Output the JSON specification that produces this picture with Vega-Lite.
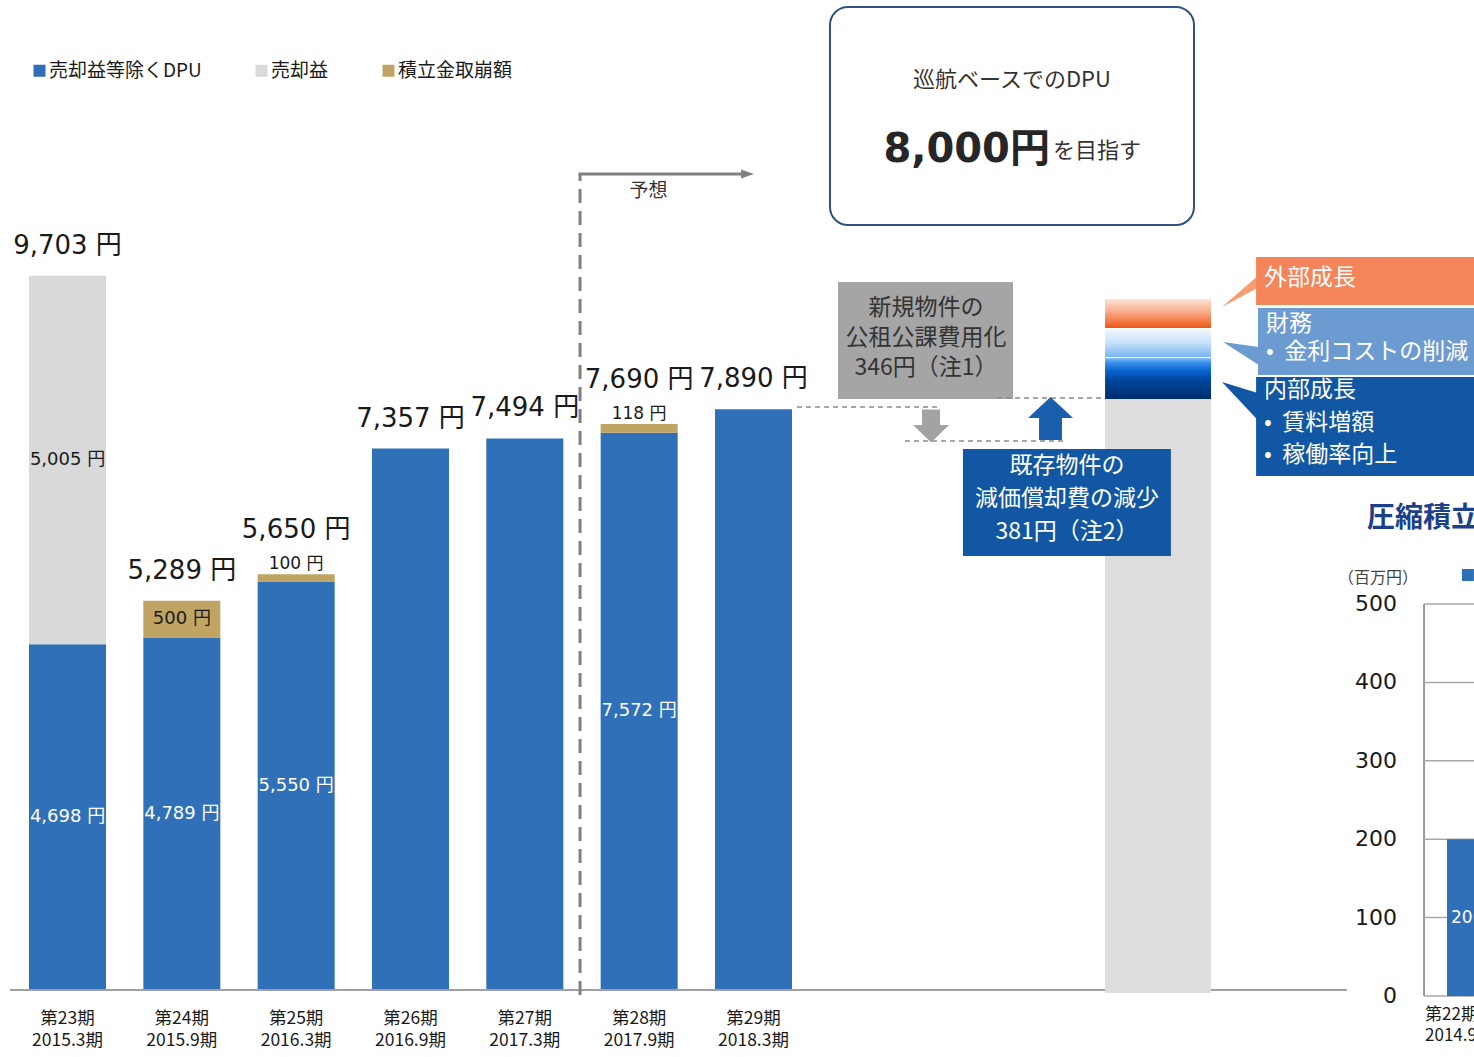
{
  "$schema": "https://vega.github.io/schema/vega-lite/v6.json",
  "width": 1474,
  "height": 1057,
  "padding": 0,
  "autosize": {"type": "none"},
  "background": "white",
  "config": {"view": {"stroke": null}, "axis": {"disable": true}, "font": "Noto Sans CJK JP", "text": {"font": "Noto Sans CJK JP"}},
  "datasets": {
    "segments": [
      {"pos": 1, "series": "売却益等除くDPU", "ord": 1, "value": 4698, "label": "4,698 円"},
      {"pos": 1, "series": "売却益", "ord": 2, "value": 5005, "label": "5,005 円"},
      {"pos": 2, "series": "売却益等除くDPU", "ord": 1, "value": 4789, "label": "4,789 円"},
      {"pos": 2, "series": "積立金取崩額", "ord": 2, "value": 500, "label": "500 円"},
      {"pos": 3, "series": "売却益等除くDPU", "ord": 1, "value": 5550, "label": "5,550 円"},
      {"pos": 3, "series": "積立金取崩額", "ord": 2, "value": 100, "label": "100 円"},
      {"pos": 4, "series": "売却益等除くDPU", "ord": 1, "value": 7357},
      {"pos": 5, "series": "売却益等除くDPU", "ord": 1, "value": 7494},
      {"pos": 6, "series": "売却益等除くDPU", "ord": 1, "value": 7572, "label": "7,572 円"},
      {"pos": 6, "series": "積立金取崩額", "ord": 2, "value": 118, "label": "118 円"},
      {"pos": 7, "series": "売却益等除くDPU", "ord": 1, "value": 7890}
    ],
    "periods": [
      {"pos": 1, "period": "第23期\n2015.3期", "total": 9703, "totalLabel": "9,703 円"},
      {"pos": 2, "period": "第24期\n2015.9期", "total": 5289, "totalLabel": "5,289 円"},
      {"pos": 3, "period": "第25期\n2016.3期", "total": 5650, "totalLabel": "5,650 円"},
      {"pos": 4, "period": "第26期\n2016.9期", "total": 7357, "totalLabel": "7,357 円"},
      {"pos": 5, "period": "第27期\n2017.3期", "total": 7494, "totalLabel": "7,494 円"},
      {"pos": 6, "period": "第28期\n2017.9期", "total": 7690, "totalLabel": "7,690 円"},
      {"pos": 7, "period": "第29期\n2018.3期", "total": 7890, "totalLabel": "7,890 円"}
    ],
    "rticks": [{"v": 0}, {"v": 100}, {"v": 200}, {"v": 300}, {"v": 400}, {"v": 500}],
    "rbar": [{"period": "第22期\n2014.9期", "value": 200, "label": "200"}],
    "one": [{}]
  },
  "layer": [
    {
      "layer": [
        {
          "data": {"name": "segments"},
          "transform": [{"stack": "value", "groupby": ["pos"], "sort": [{"field": "ord"}], "as": ["v0", "v1"]}],
          "mark": {"type": "bar", "size": 77},
          "encoding": {
            "x": {"field": "pos", "type": "quantitative", "scale": {"domain": [0.4096, 13.302], "nice": false, "zero": false, "padding": 0}},
            "y": {"field": "v0", "type": "quantitative", "scale": {"domain": [-910, 13451], "nice": false, "zero": false}},
            "y2": {"field": "v1"},
            "color": {
              "field": "series", "type": "nominal",
              "scale": {"domain": ["売却益等除くDPU", "売却益", "積立金取崩額"], "range": ["#3070b8", "#d9d9d9", "#c0a464"]},
              "legend": {"orient": "none", "legendX": 30, "legendY": 61, "direction": "horizontal", "title": null, "symbolType": "square", "symbolSize": 144, "symbolStrokeWidth": 0, "symbolOpacity": 1, "labelFont": "Noto Sans CJK JP", "labelFontSize": 19, "labelColor": "#1a1a1a", "columnPadding": 50, "labelOffset": 0, "padding": 0}
            }
          }
        },
        {
          "data": {"name": "segments"},
          "transform": [
            {"stack": "value", "groupby": ["pos"], "sort": [{"field": "ord"}], "as": ["v0", "v1"]},
            {"filter": "isValid(datum.label) && datum.value >= 300"},
            {"fold": ["v0", "v1"], "as": ["edge", "ev"]},
            {"aggregate": [{"op": "mean", "field": "ev", "as": "mid"}], "groupby": ["pos", "series", "label"]}
          ],
          "mark": {"type": "text", "font": "DejaVu Sans, Noto Sans CJK JP", "fontSize": 18, "baseline": "middle", "align": "center"},
          "encoding": {
            "x": {"field": "pos", "type": "quantitative", "scale": {"domain": [0.4096, 13.302], "nice": false, "zero": false, "padding": 0}},
            "y": {"field": "mid", "type": "quantitative", "scale": {"domain": [-910, 13451], "nice": false, "zero": false}},
            "text": {"field": "label"},
            "color": {"condition": {"test": "datum.series === '売却益等除くDPU'", "value": "#ffffff"}, "value": "#1a1a1a"}
          }
        },
        {
          "data": {"name": "segments"},
          "transform": [
            {"stack": "value", "groupby": ["pos"], "sort": [{"field": "ord"}], "as": ["v0", "v1"]},
            {"filter": "isValid(datum.label) && datum.value < 300"}
          ],
          "mark": {"type": "text", "font": "DejaVu Sans, Noto Sans CJK JP", "fontSize": 17, "baseline": "bottom", "align": "center", "dy": -1, "color": "#1a1a1a"},
          "encoding": {
            "x": {"field": "pos", "type": "quantitative", "scale": {"domain": [0.4096, 13.302], "nice": false, "zero": false, "padding": 0}},
            "y": {"field": "v1", "type": "quantitative", "scale": {"domain": [-910, 13451], "nice": false, "zero": false}},
            "text": {"field": "label"}
          }
        },
        {
          "data": {"name": "periods"},
          "transform": [{"filter": "datum.pos !== 3 && datum.pos !== 6"}],
          "mark": {"type": "text", "font": "DejaVu Sans, Noto Sans CJK JP", "fontSize": 26, "baseline": "middle", "align": "center", "dy": -30, "color": "#1a1a1a"},
          "encoding": {
            "x": {"field": "pos", "type": "quantitative", "scale": {"domain": [0.4096, 13.302], "nice": false, "zero": false, "padding": 0}},
            "y": {"field": "total", "type": "quantitative", "scale": {"domain": [-910, 13451], "nice": false, "zero": false}},
            "text": {"field": "totalLabel"}
          }
        },
        {
          "data": {"name": "periods"},
          "transform": [{"filter": "datum.pos === 3 || datum.pos === 6"}],
          "mark": {"type": "text", "font": "DejaVu Sans, Noto Sans CJK JP", "fontSize": 26, "baseline": "middle", "align": "center", "dy": -44, "color": "#1a1a1a"},
          "encoding": {
            "x": {"field": "pos", "type": "quantitative", "scale": {"domain": [0.4096, 13.302], "nice": false, "zero": false, "padding": 0}},
            "y": {"field": "total", "type": "quantitative", "scale": {"domain": [-910, 13451], "nice": false, "zero": false}},
            "text": {"field": "totalLabel"}
          }
        },
        {
          "data": {"name": "periods"},
          "mark": {"type": "text", "fontSize": 17.5, "lineHeight": 21.5, "lineBreak": "\n", "baseline": "middle", "align": "center", "color": "#1a1a1a"},
          "encoding": {
            "x": {"field": "pos", "type": "quantitative", "scale": {"domain": [0.4096, 13.302], "nice": false, "zero": false, "padding": 0}},
            "y": {"datum": -394, "type": "quantitative", "scale": {"domain": [-910, 13451], "nice": false, "zero": false}},
            "text": {"field": "period"}
          }
        },
        {
          "data": {"name": "one"},
          "mark": {"type": "rule", "color": "#a0a0a0", "strokeWidth": 2},
          "encoding": {
            "x": {"datum": 0.497, "type": "quantitative", "scale": {"domain": [0.4096, 13.302], "nice": false, "zero": false, "padding": 0}},
            "x2": {"datum": 12.19},
            "y": {"datum": 0, "type": "quantitative", "scale": {"domain": [-910, 13451], "nice": false, "zero": false}}
          }
        },
        {
          "data": {"name": "one"},
          "mark": {"type": "rect", "fill": "#dcdddc"},
          "encoding": {
            "x": {"datum": 10.075, "type": "quantitative", "scale": {"domain": [0.4096, 13.302], "nice": false, "zero": false, "padding": 0}},
            "x2": {"datum": 11.002},
            "y": {"datum": -40, "type": "quantitative", "scale": {"domain": [-910, 13451], "nice": false, "zero": false}},
            "y2": {"datum": 8030}
          }
        },
        {
          "data": {"name": "one"},
          "mark": {"type": "rect", "fill": {"gradient": "linear", "x1": 0, "y1": 0, "x2": 0, "y2": 1, "stops": [{"offset": 0, "color": "#8cc3f7"}, {"offset": 0.1, "color": "#3d94ee"}, {"offset": 0.3, "color": "#0a66d2"}, {"offset": 0.55, "color": "#00449a"}, {"offset": 1, "color": "#002f6c"}]}},
          "encoding": {
            "x": {"datum": 10.075, "type": "quantitative", "scale": {"domain": [0.4096, 13.302], "nice": false, "zero": false, "padding": 0}},
            "x2": {"datum": 11.002},
            "y": {"datum": 8030, "type": "quantitative", "scale": {"domain": [-910, 13451], "nice": false, "zero": false}},
            "y2": {"datum": 8587}
          }
        },
        {
          "data": {"name": "one"},
          "mark": {"type": "rect", "fill": {"gradient": "linear", "x1": 0, "y1": 0, "x2": 0, "y2": 1, "stops": [{"offset": 0, "color": "#f2f8fe"}, {"offset": 0.5, "color": "#c6e0fa"}, {"offset": 1, "color": "#76b4f3"}]}},
          "encoding": {
            "x": {"datum": 10.075, "type": "quantitative", "scale": {"domain": [0.4096, 13.302], "nice": false, "zero": false, "padding": 0}},
            "x2": {"datum": 11.002},
            "y": {"datum": 8600, "type": "quantitative", "scale": {"domain": [-910, 13451], "nice": false, "zero": false}},
            "y2": {"datum": 8981}
          }
        },
        {
          "data": {"name": "one"},
          "mark": {"type": "rect", "fill": {"gradient": "linear", "x1": 0, "y1": 0, "x2": 0, "y2": 1, "stops": [{"offset": 0, "color": "#fde3d6"}, {"offset": 0.45, "color": "#f9ab88"}, {"offset": 1, "color": "#ee5516"}]}},
          "encoding": {
            "x": {"datum": 10.075, "type": "quantitative", "scale": {"domain": [0.4096, 13.302], "nice": false, "zero": false, "padding": 0}},
            "x2": {"datum": 11.002},
            "y": {"datum": 8995, "type": "quantitative", "scale": {"domain": [-910, 13451], "nice": false, "zero": false}},
            "y2": {"datum": 9389}
          }
        },
        {
          "data": {"name": "one"},
          "mark": {"type": "rule", "color": "#808080", "strokeWidth": 3, "strokeDash": [14, 8]},
          "encoding": {
            "x": {"datum": 5.483, "type": "quantitative", "scale": {"domain": [0.4096, 13.302], "nice": false, "zero": false, "padding": 0}},
            "y": {"datum": -68, "type": "quantitative", "scale": {"domain": [-910, 13451], "nice": false, "zero": false}},
            "y2": {"datum": 11087}
          }
        },
        {
          "data": {"name": "one"},
          "mark": {"type": "rule", "color": "#808080", "strokeWidth": 3},
          "encoding": {
            "x": {"datum": 5.47, "type": "quantitative", "scale": {"domain": [0.4096, 13.302], "nice": false, "zero": false, "padding": 0}},
            "x2": {"datum": 6.9},
            "y": {"datum": 11087, "type": "quantitative", "scale": {"domain": [-910, 13451], "nice": false, "zero": false}}
          }
        },
        {
          "data": {"name": "one"},
          "mark": {"type": "point", "shape": "M -1 -0.7 L 1 0 L -1 0.7 Z", "filled": true, "size": 169, "color": "#808080", "opacity": 1},
          "encoding": {
            "x": {"datum": 6.948, "type": "quantitative", "scale": {"domain": [0.4096, 13.302], "nice": false, "zero": false, "padding": 0}},
            "y": {"datum": 11087, "type": "quantitative", "scale": {"domain": [-910, 13451], "nice": false, "zero": false}}
          }
        },
        {
          "data": {"name": "one"},
          "mark": {"type": "text", "text": "予想", "fontSize": 19, "color": "#333333", "align": "center", "baseline": "middle"},
          "encoding": {
            "x": {"datum": 6.082, "type": "quantitative", "scale": {"domain": [0.4096, 13.302], "nice": false, "zero": false, "padding": 0}},
            "y": {"datum": 10860, "type": "quantitative", "scale": {"domain": [-910, 13451], "nice": false, "zero": false}}
          }
        },
        {
          "data": {"name": "one"},
          "mark": {"type": "rect", "fill": "#ffffff", "stroke": "#2f5286", "strokeWidth": 2, "cornerRadius": 18},
          "encoding": {
            "x": {"datum": 7.669, "type": "quantitative", "scale": {"domain": [0.4096, 13.302], "nice": false, "zero": false, "padding": 0}},
            "x2": {"datum": 10.853},
            "y": {"datum": 13356, "type": "quantitative", "scale": {"domain": [-910, 13451], "nice": false, "zero": false}},
            "y2": {"datum": 10394}
          }
        },
        {
          "data": {"name": "one"},
          "mark": {"type": "text", "text": "巡航ベースでのDPU", "fontSize": 22, "color": "#333333", "align": "center", "baseline": "middle"},
          "encoding": {
            "x": {"datum": 9.261, "type": "quantitative", "scale": {"domain": [0.4096, 13.302], "nice": false, "zero": false, "padding": 0}},
            "y": {"datum": 12364, "type": "quantitative", "scale": {"domain": [-910, 13451], "nice": false, "zero": false}}
          }
        },
        {
          "data": {"name": "one"},
          "mark": {"type": "text", "text": "8,000円", "font": "DejaVu Sans, Noto Sans CJK JP", "fontSize": 40, "fontWeight": "bold", "color": "#262626", "align": "right", "baseline": "alphabetic"},
          "encoding": {
            "x": {"datum": 9.593, "type": "quantitative", "scale": {"domain": [0.4096, 13.302], "nice": false, "zero": false, "padding": 0}},
            "y": {"datum": 11250, "type": "quantitative", "scale": {"domain": [-910, 13451], "nice": false, "zero": false}}
          }
        },
        {
          "data": {"name": "one"},
          "mark": {"type": "text", "text": "を目指す", "fontSize": 22, "color": "#333333", "align": "left", "baseline": "alphabetic"},
          "encoding": {
            "x": {"datum": 9.619, "type": "quantitative", "scale": {"domain": [0.4096, 13.302], "nice": false, "zero": false, "padding": 0}},
            "y": {"datum": 11300, "type": "quantitative", "scale": {"domain": [-910, 13451], "nice": false, "zero": false}}
          }
        },
        {
          "data": {"name": "one"},
          "mark": {"type": "rect", "fill": "#a5a5a5"},
          "encoding": {
            "x": {"datum": 7.739, "type": "quantitative", "scale": {"domain": [0.4096, 13.302], "nice": false, "zero": false, "padding": 0}},
            "x2": {"datum": 9.27},
            "y": {"datum": 9620, "type": "quantitative", "scale": {"domain": [-910, 13451], "nice": false, "zero": false}},
            "y2": {"datum": 8030}
          }
        },
        {
          "data": {"name": "one"},
          "mark": {"type": "text", "text": "新規物件の\n公租公課費用化\n346円（注1）", "lineBreak": "\n", "lineHeight": 30, "fontSize": 23, "color": "#333333", "align": "center", "baseline": "middle"},
          "encoding": {
            "x": {"datum": 8.509, "type": "quantitative", "scale": {"domain": [0.4096, 13.302], "nice": false, "zero": false, "padding": 0}},
            "y": {"datum": 9266, "type": "quantitative", "scale": {"domain": [-910, 13451], "nice": false, "zero": false}}
          }
        },
        {
          "data": {"name": "one"},
          "mark": {"type": "rect", "fill": "#1257a3"},
          "encoding": {
            "x": {"datum": 8.832, "type": "quantitative", "scale": {"domain": [0.4096, 13.302], "nice": false, "zero": false, "padding": 0}},
            "x2": {"datum": 10.651},
            "y": {"datum": 7351, "type": "quantitative", "scale": {"domain": [-910, 13451], "nice": false, "zero": false}},
            "y2": {"datum": 5897}
          }
        },
        {
          "data": {"name": "one"},
          "mark": {"type": "text", "text": "既存物件の\n減価償却費の減少\n381円（注2）", "lineBreak": "\n", "lineHeight": 33, "fontSize": 23, "color": "#ffffff", "align": "center", "baseline": "middle"},
          "encoding": {
            "x": {"datum": 9.742, "type": "quantitative", "scale": {"domain": [0.4096, 13.302], "nice": false, "zero": false, "padding": 0}},
            "y": {"datum": 7120, "type": "quantitative", "scale": {"domain": [-910, 13451], "nice": false, "zero": false}}
          }
        },
        {
          "data": {"name": "one"},
          "mark": {"type": "rule", "color": "#8c8c8c", "strokeWidth": 1.5, "strokeDash": [5, 4]},
          "encoding": {
            "x": {"datum": 7.381, "type": "quantitative", "scale": {"domain": [0.4096, 13.302], "nice": false, "zero": false, "padding": 0}},
            "x2": {"datum": 8.605},
            "y": {"datum": 7921, "type": "quantitative", "scale": {"domain": [-910, 13451], "nice": false, "zero": false}}
          }
        },
        {
          "data": {"name": "one"},
          "mark": {"type": "rule", "color": "#8c8c8c", "strokeWidth": 1.5, "strokeDash": [5, 4]},
          "encoding": {
            "x": {"datum": 8.325, "type": "quantitative", "scale": {"domain": [0.4096, 13.302], "nice": false, "zero": false, "padding": 0}},
            "x2": {"datum": 9.742},
            "y": {"datum": 7459, "type": "quantitative", "scale": {"domain": [-910, 13451], "nice": false, "zero": false}}
          }
        },
        {
          "data": {"name": "one"},
          "mark": {"type": "rule", "color": "#8c8c8c", "strokeWidth": 1.5, "strokeDash": [5, 4]},
          "encoding": {
            "x": {"datum": 9.13, "type": "quantitative", "scale": {"domain": [0.4096, 13.302], "nice": false, "zero": false, "padding": 0}},
            "x2": {"datum": 10.075},
            "y": {"datum": 8043, "type": "quantitative", "scale": {"domain": [-910, 13451], "nice": false, "zero": false}}
          }
        },
        {
          "data": {"name": "one"},
          "mark": {"type": "point", "shape": "M -0.5 -0.917 L 0.5 -0.917 L 0.5 -0.05 L 1 -0.05 L 0 0.917 L -1 -0.05 L -0.5 -0.05 Z", "filled": true, "size": 1296, "color": "#a3a3a3", "opacity": 1},
          "encoding": {
            "x": {"datum": 8.553, "type": "quantitative", "scale": {"domain": [0.4096, 13.302], "nice": false, "zero": false, "padding": 0}},
            "y": {"datum": 7663, "type": "quantitative", "scale": {"domain": [-910, 13451], "nice": false, "zero": false}}
          }
        },
        {
          "data": {"name": "one"},
          "mark": {"type": "point", "shape": "M 0 -0.956 L 1 -0.02 L 0.51 -0.02 L 0.51 0.956 L -0.51 0.956 L -0.51 -0.02 L -1 -0.02 Z", "filled": true, "size": 2025, "color": "#1a5fae", "opacity": 1},
          "encoding": {
            "x": {"datum": 9.598, "type": "quantitative", "scale": {"domain": [0.4096, 13.302], "nice": false, "zero": false, "padding": 0}},
            "y": {"datum": 7765, "type": "quantitative", "scale": {"domain": [-910, 13451], "nice": false, "zero": false}}
          }
        },
        {
          "data": {"values": [{"x": 11.098, "y": 9280, "y2": 9280}, {"x": 11.41, "y": 9701, "y2": 9540}]},
          "mark": {"type": "area", "orient": "vertical", "color": "#f89a72", "opacity": 1},
          "encoding": {
            "x": {"field": "x", "type": "quantitative", "scale": {"domain": [0.4096, 13.302], "nice": false, "zero": false, "padding": 0}},
            "y": {"field": "y", "type": "quantitative", "scale": {"domain": [-910, 13451], "nice": false, "zero": false}},
            "y2": {"field": "y2"}
          }
        },
        {
          "data": {"values": [{"x": 11.107, "y": 8804, "y2": 8804}, {"x": 11.42, "y": 8736, "y2": 8492}]},
          "mark": {"type": "area", "orient": "vertical", "color": "#6c9bd2", "opacity": 1},
          "encoding": {
            "x": {"field": "x", "type": "quantitative", "scale": {"domain": [0.4096, 13.302], "nice": false, "zero": false, "padding": 0}},
            "y": {"field": "y", "type": "quantitative", "scale": {"domain": [-910, 13451], "nice": false, "zero": false}},
            "y2": {"field": "y2"}
          }
        },
        {
          "data": {"values": [{"x": 11.098, "y": 8261, "y2": 8261}, {"x": 11.41, "y": 8111, "y2": 7745}]},
          "mark": {"type": "area", "orient": "vertical", "color": "#1257a3", "opacity": 1},
          "encoding": {
            "x": {"field": "x", "type": "quantitative", "scale": {"domain": [0.4096, 13.302], "nice": false, "zero": false, "padding": 0}},
            "y": {"field": "y", "type": "quantitative", "scale": {"domain": [-910, 13451], "nice": false, "zero": false}},
            "y2": {"field": "y2"}
          }
        },
        {
          "data": {"name": "one"},
          "mark": {"type": "rect", "fill": "#f4845a"},
          "encoding": {
            "x": {"datum": 11.396, "type": "quantitative", "scale": {"domain": [0.4096, 13.302], "nice": false, "zero": false, "padding": 0}},
            "x2": {"datum": 13.302},
            "y": {"datum": 9959, "type": "quantitative", "scale": {"domain": [-910, 13451], "nice": false, "zero": false}},
            "y2": {"datum": 9307}
          }
        },
        {
          "data": {"name": "one"},
          "mark": {"type": "rect", "fill": "#6c9bd2"},
          "encoding": {
            "x": {"datum": 11.413, "type": "quantitative", "scale": {"domain": [0.4096, 13.302], "nice": false, "zero": false, "padding": 0}},
            "x2": {"datum": 13.302},
            "y": {"datum": 9266, "type": "quantitative", "scale": {"domain": [-910, 13451], "nice": false, "zero": false}},
            "y2": {"datum": 8356}
          }
        },
        {
          "data": {"name": "one"},
          "mark": {"type": "rect", "fill": "#1257a3"},
          "encoding": {
            "x": {"datum": 11.396, "type": "quantitative", "scale": {"domain": [0.4096, 13.302], "nice": false, "zero": false, "padding": 0}},
            "x2": {"datum": 13.302},
            "y": {"datum": 8329, "type": "quantitative", "scale": {"domain": [-910, 13451], "nice": false, "zero": false}},
            "y2": {"datum": 6984}
          }
        },
        {
          "data": {"name": "one"},
          "mark": {"type": "text", "text": "外部成長", "fontSize": 23, "color": "#ffffff", "align": "left", "baseline": "middle"},
          "encoding": {
            "x": {"datum": 11.466, "type": "quantitative", "scale": {"domain": [0.4096, 13.302], "nice": false, "zero": false, "padding": 0}},
            "y": {"datum": 9674, "type": "quantitative", "scale": {"domain": [-910, 13451], "nice": false, "zero": false}}
          }
        },
        {
          "data": {"name": "one"},
          "mark": {"type": "text", "text": "財務\n•\u00a0\u00a0金利コストの削減", "lineBreak": "\n", "lineHeight": 28, "fontSize": 23, "color": "#ffffff", "align": "left", "baseline": "middle"},
          "encoding": {
            "x": {"datum": 11.483, "type": "quantitative", "scale": {"domain": [0.4096, 13.302], "nice": false, "zero": false, "padding": 0}},
            "y": {"datum": 9049, "type": "quantitative", "scale": {"domain": [-910, 13451], "nice": false, "zero": false}}
          }
        },
        {
          "data": {"name": "one"},
          "mark": {"type": "text", "text": "内部成長\n•\u00a0\u00a0賃料増額\n•\u00a0\u00a0稼働率向上", "lineBreak": "\n", "lineHeight": 32.5, "fontSize": 23, "color": "#ffffff", "align": "left", "baseline": "middle"},
          "encoding": {
            "x": {"datum": 11.466, "type": "quantitative", "scale": {"domain": [0.4096, 13.302], "nice": false, "zero": false, "padding": 0}},
            "y": {"datum": 8152, "type": "quantitative", "scale": {"domain": [-910, 13451], "nice": false, "zero": false}}
          }
        },
        {
          "data": {"name": "rbar"},
          "mark": {"type": "text", "fontSize": 17, "lineHeight": 21, "lineBreak": "\n", "color": "#1a1a1a", "align": "left", "baseline": "middle"},
          "encoding": {
            "x": {"datum": 12.874, "type": "quantitative", "scale": {"domain": [0.4096, 13.302], "nice": false, "zero": false, "padding": 0}},
            "y": {"datum": -340, "type": "quantitative", "scale": {"domain": [-910, 13451], "nice": false, "zero": false}},
            "text": {"field": "period"}
          }
        }
      ]
    },
    {
      "layer": [
        {
          "data": {"name": "one"},
          "mark": {"type": "rule", "color": "#999999", "strokeWidth": 2},
          "encoding": {
            "x": {"datum": 12.865, "type": "quantitative", "scale": {"domain": [0.4096, 13.302], "nice": false, "zero": false, "padding": 0}},
            "y": {"datum": 0, "type": "quantitative", "scale": {"domain": [-77.8, 1270.4], "nice": false, "zero": false}},
            "y2": {"datum": 500}
          }
        },
        {
          "data": {"name": "rticks"},
          "mark": {"type": "rule", "color": "#a6a6a6", "strokeWidth": 1.5},
          "encoding": {
            "x": {"datum": 12.865, "type": "quantitative", "scale": {"domain": [0.4096, 13.302], "nice": false, "zero": false, "padding": 0}},
            "x2": {"datum": 13.302},
            "y": {"field": "v", "type": "quantitative", "scale": {"domain": [-77.8, 1270.4], "nice": false, "zero": false}}
          }
        },
        {
          "data": {"name": "rbar"},
          "mark": {"type": "rect", "fill": "#3070b8"},
          "encoding": {
            "x": {"datum": 13.066, "type": "quantitative", "scale": {"domain": [0.4096, 13.302], "nice": false, "zero": false, "padding": 0}},
            "x2": {"datum": 13.302},
            "y": {"field": "value", "type": "quantitative", "scale": {"domain": [-77.8, 1270.4], "nice": false, "zero": false}},
            "y2": {"datum": 0}
          }
        },
        {
          "data": {"name": "rbar"},
          "mark": {"type": "text", "font": "DejaVu Sans, Noto Sans CJK JP", "fontSize": 17, "color": "#ffffff", "align": "left", "baseline": "middle"},
          "encoding": {
            "x": {"datum": 13.101, "type": "quantitative", "scale": {"domain": [0.4096, 13.302], "nice": false, "zero": false, "padding": 0}},
            "y": {"datum": 100, "type": "quantitative", "scale": {"domain": [-77.8, 1270.4], "nice": false, "zero": false}},
            "text": {"field": "label"}
          }
        },
        {
          "data": {"name": "rticks"},
          "mark": {"type": "text", "font": "DejaVu Sans", "fontSize": 22, "color": "#1a1a1a", "align": "right", "baseline": "middle"},
          "encoding": {
            "x": {"datum": 12.628, "type": "quantitative", "scale": {"domain": [0.4096, 13.302], "nice": false, "zero": false, "padding": 0}},
            "y": {"field": "v", "type": "quantitative", "scale": {"domain": [-77.8, 1270.4], "nice": false, "zero": false}},
            "text": {"field": "v"}
          }
        },
        {
          "data": {"name": "one"},
          "mark": {"type": "text", "text": "（百万円）", "fontSize": 16, "color": "#444444", "align": "center", "baseline": "middle"},
          "encoding": {
            "x": {"datum": 12.462, "type": "quantitative", "scale": {"domain": [0.4096, 13.302], "nice": false, "zero": false, "padding": 0}},
            "y": {"datum": 533, "type": "quantitative", "scale": {"domain": [-77.8, 1270.4], "nice": false, "zero": false}}
          }
        },
        {
          "data": {"name": "one"},
          "mark": {"type": "point", "shape": "square", "filled": true, "size": 144, "color": "#3070b8", "opacity": 1},
          "encoding": {
            "x": {"datum": 13.249, "type": "quantitative", "scale": {"domain": [0.4096, 13.302], "nice": false, "zero": false, "padding": 0}},
            "y": {"datum": 537, "type": "quantitative", "scale": {"domain": [-77.8, 1270.4], "nice": false, "zero": false}}
          }
        },
        {
          "data": {"name": "one"},
          "mark": {"type": "text", "text": "圧縮積立金の推移", "fontSize": 28, "fontWeight": "bold", "color": "#1b3f8b", "align": "left", "baseline": "middle"},
          "encoding": {
            "x": {"datum": 12.366, "type": "quantitative", "scale": {"domain": [0.4096, 13.302], "nice": false, "zero": false, "padding": 0}},
            "y": {"datum": 608, "type": "quantitative", "scale": {"domain": [-77.8, 1270.4], "nice": false, "zero": false}}
          }
        }
      ]
    }
  ],
  "resolve": {"scale": {"y": "independent"}}
}
